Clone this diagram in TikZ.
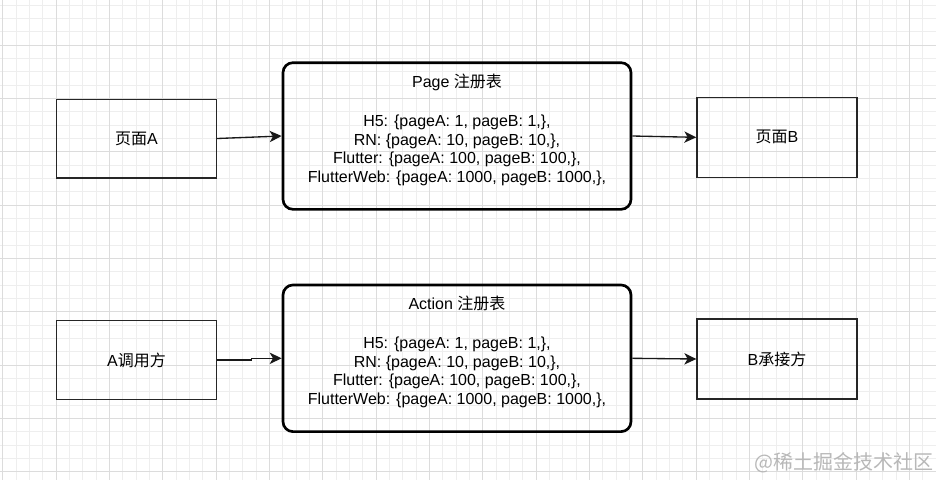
\documentclass[tikz,border=0pt]{standalone}
\usepackage{fontspec}
\setmainfont{Liberation Sans}
\newfontfamily\cjk{Noto Sans CJK SC}
\usetikzlibrary{arrows.meta}
\definecolor{gridfine}{RGB}{238,238,238}
\definecolor{gridmajor}{RGB}{220,220,220}
\newcommand{\zh}[1]{{\cjk #1}}
\tikzset{every picture/.style={line width=0.75pt}}

\begin{document}
\begin{tikzpicture}[x=0.75pt,y=0.75pt,yscale=-1,xscale=1,
  plainbox/.style={draw=black!85,line width=1pt,minimum width=120pt,minimum height=60pt,inner sep=0pt,font=\fontsize{12}{14}\selectfont},
  regbox/.style={draw=black,line width=2pt,rounded corners=7.5pt,minimum width=261pt,minimum height=110pt,inner sep=0pt},
  regtext/.style={align=center,inner sep=0.75pt,font=\fontsize{12}{13.9}\selectfont},
  link/.style={draw=black!90,line width=1pt,-{Stealth[length=9pt,width=8.5pt,inset=2.5pt]}}]
%set diagram left start at 0, and has height of 480
\fill[white] (0,0) rectangle (936,480);
\useasboundingbox (0,0) rectangle (936,480);

%Grid
\foreach \i in {-4,...,66}
  \draw[gridfine,line width=0.6pt] ({56+13.333*\i},0) -- ({56+13.333*\i},480);
\foreach \j in {-7,...,28}
  \draw[gridfine,line width=0.6pt] (0,{98.33+13.333*\j}) -- (936,{98.33+13.333*\j});
\foreach \i in {-1,...,16}
  \draw[gridmajor,line width=0.6pt] ({56+53.333*\i},0) -- ({56+53.333*\i},480);
\foreach \j in {-2,...,7}
  \draw[gridmajor,line width=0.6pt] (0,{98.33+53.333*\j}) -- (936,{98.33+53.333*\j});

%Shape: Rectangle [page A]
\node[plainbox,minimum height=59pt] (pagea) at (136.5,138.5) {\zh{页面}A};
%Shape: Rounded Rect [page table]
\node[regbox] (page) at (457,136) {};
%Shape: Rectangle [page B]
\node[plainbox] (pageb) at (777,137.3) {\zh{页面}B};

%Shape: Rectangle [caller]
\node[plainbox,minimum height=59pt] (caller) at (136.5,360) {A\zh{调用方}};
%Shape: Rounded Rect [action table]
\node[regbox] (action) at (457,358.3) {};
%Shape: Rectangle [receiver]
\node[plainbox] (receiver) at (777,359) {B\zh{承接方}};

% Text Node
\node[regtext] (pagetxt) at (457,130) {Page \zh{注册表}\\[1.5pt]\\
H5: \{pageA: 1, pageB: 1,\},\\
RN: \{pageA: 10, pageB: 10,\},\\
Flutter: \{pageA: 100, pageB: 100,\},\\
FlutterWeb: \{pageA: 1000, pageB: 1000,\},};
% Text Node
\node[regtext] (actiontxt) at (457,352) {Action \zh{注册表}\\[1.5pt]\\
H5: \{pageA: 1, pageB: 1,\},\\
RN: \{pageA: 10, pageB: 10,\},\\
Flutter: \{pageA: 100, pageB: 100,\},\\
FlutterWeb: \{pageA: 1000, pageB: 1000,\},};

%Arrows
\draw[link] (pagea.east) -- (page.west);
\draw[link] (page.east) -- (pageb.west);
\draw[link] (caller.east) -- ++(34,0) |- (action.west);
\draw[link] (action.east) -- (receiver.west);

% Text Node
\node[anchor=east,inner sep=0pt,text=black!28,font=\cjk\fontsize{15}{15}\selectfont] (mark) at (934,463) {@稀土掘金技术社区};

\end{tikzpicture}
\end{document}
